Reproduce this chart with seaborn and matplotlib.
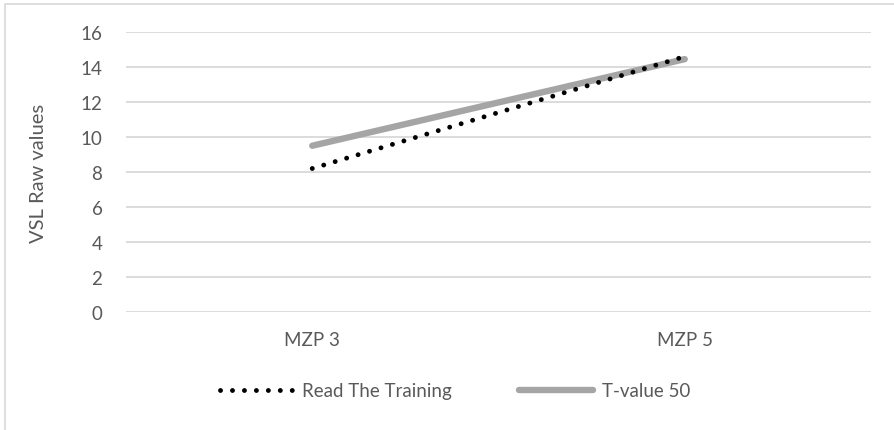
import matplotlib
matplotlib.use("Agg")
import matplotlib.pyplot as plt
from matplotlib.lines import Line2D
from matplotlib.patches import Rectangle
import seaborn as sns
import pandas as pd

categories = ["MZP 3", "MZP 5"]
read_training = [8.2, 14.6]
t_value_50 = [9.5, 14.45]
series_names = ["Read The Training", "T-value 50"]
y_ticks = [0, 2, 4, 6, 8, 10, 12, 14, 16]

sns.set_theme(style="white")
plt.rcParams['font.family'] = ['Lato', 'DejaVu Sans']
text_color = "#595959"
dot_lw = 3.5
dot_style = (0, (0.01, 2.45))

fig = plt.figure(figsize=(8.95, 4.31), dpi=100)
ax = fig.add_axes([126/895, 1-313/431, 745/895, 280/431])

df = pd.DataFrame({
    "cat": categories * 2,
    "val": read_training + t_value_50,
    "series": [series_names[0]] * 2 + [series_names[1]] * 2,
})

sns.lineplot(data=df[df.series == series_names[1]], x="cat", y="val", ax=ax,
             color="#A5A5A5", linewidth=4.6, legend=False, zorder=3,
             solid_capstyle="round")
sns.lineplot(data=df[df.series == series_names[0]], x="cat", y="val", ax=ax,
             color="black", linewidth=dot_lw, legend=False, zorder=4,
             linestyle=dot_style, dash_capstyle="round")

ax.set_xlim(-0.5, 1.5)
ax.set_ylim(0, 16)
ax.set_yticks(y_ticks)
ax.set_yticklabels([str(v) for v in y_ticks])
ax.yaxis.grid(True, color="#D9D9D9", linewidth=1.3)
ax.xaxis.grid(False)
for s in ax.spines.values():
    s.set_visible(False)
ax.tick_params(axis="y", length=0, pad=17, labelsize=13.5, labelcolor=text_color)
ax.tick_params(axis="x", length=0, pad=14, labelsize=13.5, labelcolor=text_color)
ax.set_xlabel("")
ax.set_ylabel("VSL Raw values", fontsize=14.5, color=text_color)
ax.yaxis.set_label_coords(-(126-47)/745, 0.5)

h1 = Line2D([], [], color="black", linewidth=dot_lw, linestyle=dot_style, dash_capstyle="round")
h2 = Line2D([], [], color="#A5A5A5", linewidth=4.6, solid_capstyle="round")
leg = fig.legend([h1, h2], series_names, loc="center", bbox_to_anchor=(455/895, 1-392/431),
                 ncol=2, frameon=False, fontsize=13.5, handlelength=3.9, handletextpad=0.5,
                 columnspacing=3.6)
for t in leg.get_texts():
    t.set_color(text_color)

fig.patches.append(Rectangle((5/895, -0.1), 2, 1-5/431+0.1, transform=fig.transFigure,
                             fill=False, edgecolor="#D9D9D9", linewidth=1.2))

fig.savefig("out.png", dpi=100)
